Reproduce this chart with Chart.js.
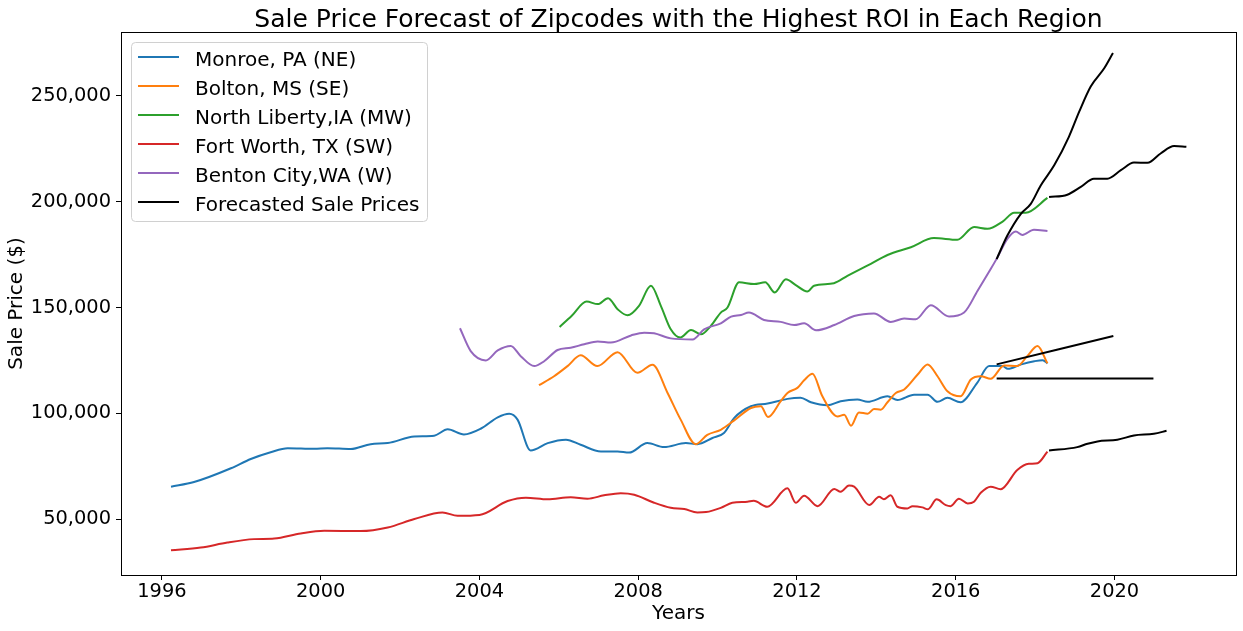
<!DOCTYPE html>
<html>
<head>
<meta charset="utf-8">
<script src="https://cdn.jsdelivr.net/npm/chart.js@4.4.0/dist/chart.umd.min.js"></script>
<style>
  html, body { margin: 0; padding: 0; background: #fff; }
</style>
</head>
<body>
<canvas id="forecastChart" width="1243" height="631"></canvas>
<script>
// values (years as decimals)
let monroeYears = [1996.23, 1996.81, 1997.74, 1998.24, 1998.74, 1999.17, 1999.84, 2000.17, 2000.76, 2001.26, 2001.69, 2002.36, 2002.86, 2003.20, 2003.61, 2004.04, 2004.46, 2004.75, 2004.96, 2005.29, 2005.72, 2006.18, 2006.55, 2007.06, 2007.48, 2007.77, 2008.23, 2008.65, 2009.20, 2009.49, 2009.87, 2010.16, 2010.42, 2010.84, 2011.26, 2011.76, 2012.09, 2012.35, 2012.77, 2013.10, 2013.52, 2013.78, 2014.28, 2014.53, 2014.95, 2015.29, 2015.54, 2015.79, 2016.12, 2016.54, 2016.84, 2017.18, 2017.31, 2017.65, 2017.98, 2018.19, 2018.31];
let monroeValues = [65300, 67500, 74000, 78400, 81600, 83500, 83200, 83500, 83100, 85400, 85900, 89000, 89400, 92400, 90000, 92800, 98100, 99800, 97000, 82400, 85900, 87500, 85100, 81900, 81900, 81400, 85900, 84000, 85900, 85400, 88300, 90700, 97800, 103300, 104600, 106800, 107300, 105200, 103800, 105700, 106500, 105400, 108000, 106300, 108800, 108800, 105400, 107300, 105200, 114400, 122300, 122300, 121000, 123100, 124600, 125100, 123600];

let boltonYears = [2005.50, 2005.88, 2006.22, 2006.55, 2006.97, 2007.48, 2007.98, 2008.36, 2008.74, 2009.07, 2009.45, 2009.74, 2010.08, 2010.41, 2010.84, 2011.09, 2011.27, 2011.59, 2011.76, 2012.01, 2012.18, 2012.39, 2012.64, 2013.02, 2013.19, 2013.36, 2013.56, 2013.78, 2013.94, 2014.11, 2014.28, 2014.49, 2014.70, 2015.04, 2015.29, 2015.54, 2015.79, 2016.12, 2016.38, 2016.63, 2016.88, 2017.22, 2017.55, 2017.80, 2018.06, 2018.31];
let boltonValues = [113300, 117500, 122300, 127400, 122300, 128900, 119100, 122900, 109600, 97000, 85400, 89800, 92200, 96500, 102500, 103300, 98200, 105700, 109600, 112000, 115600, 118700, 108000, 98500, 99300, 94100, 100400, 99800, 102000, 101700, 105200, 109600, 111200, 118300, 123100, 117500, 110400, 108000, 116000, 117500, 116300, 122600, 122300, 127000, 131800, 123600];

let libertyYears = [2006.02, 2006.32, 2006.70, 2006.98, 2007.24, 2007.48, 2007.73, 2008.02, 2008.32, 2008.57, 2008.82, 2009.06, 2009.33, 2009.58, 2009.83, 2010.08, 2010.25, 2010.54, 2010.92, 2011.20, 2011.44, 2011.72, 2011.97, 2012.26, 2012.43, 2012.93, 2013.27, 2013.86, 2014.28, 2014.87, 2015.45, 2016.04, 2016.46, 2016.80, 2017.18, 2017.47, 2017.76, 2018.31];
let libertyValues = [140800, 146000, 152800, 151600, 154400, 149200, 146300, 150800, 160300, 150800, 139700, 135800, 139400, 137300, 141300, 147600, 150000, 161900, 161100, 161900, 157100, 163400, 160600, 157600, 160300, 161500, 165000, 170600, 174800, 178500, 182800, 182000, 188000, 187200, 190600, 194800, 194800, 201800];

let fortWorthYears = [1996.23, 1996.98, 1997.65, 1998.32, 1998.83, 1999.50, 2000.09, 2001.01, 2001.69, 2002.36, 2003.07, 2003.45, 2004.00, 2004.71, 2005.17, 2005.72, 2006.30, 2006.72, 2007.14, 2007.56, 2007.90, 2008.40, 2008.82, 2009.16, 2009.49, 2009.71, 2010.08, 2010.37, 2010.75, 2010.91, 2011.25, 2011.76, 2011.97, 2012.18, 2012.52, 2012.94, 2013.10, 2013.31, 2013.44, 2013.82, 2014.07, 2014.19, 2014.36, 2014.53, 2014.78, 2014.91, 2015.16, 2015.30, 2015.52, 2015.75, 2015.87, 2016.08, 2016.30, 2016.46, 2016.63, 2016.88, 2017.13, 2017.55, 2017.84, 2018.06, 2018.31];
let fortWorthValues = [35200, 36500, 38900, 40500, 40800, 43200, 44400, 44300, 46000, 50000, 53100, 51500, 51900, 58500, 60100, 59300, 60300, 59600, 61200, 62200, 61500, 57700, 55300, 54700, 53100, 53300, 55300, 57700, 58200, 58600, 55800, 64500, 57700, 61000, 56100, 64200, 62900, 65800, 65300, 56600, 60500, 59300, 61200, 55800, 55000, 56100, 55500, 54600, 59300, 56600, 56100, 59600, 57400, 58200, 62400, 65300, 64100, 73200, 76100, 76400, 81900];

let bentonYears = [2003.51, 2003.78, 2004.16, 2004.46, 2004.79, 2005.04, 2005.38, 2005.63, 2005.97, 2006.30, 2006.64, 2006.98, 2007.31, 2007.82, 2008.15, 2008.40, 2008.82, 2009.37, 2009.66, 2010.08, 2010.34, 2010.59, 2010.79, 2011.17, 2011.59, 2011.93, 2012.18, 2012.48, 2012.94, 2013.44, 2013.94, 2014.36, 2014.70, 2014.99, 2015.37, 2015.83, 2016.21, 2016.55, 2016.88, 2017.05, 2017.30, 2017.51, 2017.68, 2017.97, 2018.31];
let bentonValues = [140200, 129400, 125000, 129700, 131800, 127000, 122300, 124600, 129900, 131000, 132600, 133900, 133400, 136800, 138100, 137800, 135400, 134900, 139700, 142500, 145700, 146500, 147600, 144100, 143200, 141700, 142500, 139200, 141700, 146000, 147200, 143200, 144800, 144400, 151100, 145700, 147600, 157900, 168200, 173700, 182400, 185900, 184300, 186800, 186200];

// forecasts (black lines)
let bentonForecastYears = [2017.03, 2017.30, 2017.64, 2017.89, 2018.14, 2018.48, 2018.85, 2019.11, 2019.40, 2019.74, 2019.96];
let bentonForecastValues = [172900, 184000, 194300, 199000, 207700, 217200, 230700, 242600, 254500, 263100, 270300];
let libertyForecastYears = [2018.35, 2018.81, 2019.15, 2019.48, 2019.82, 2020.16, 2020.49, 2020.83, 2021.16, 2021.50, 2021.81];
let libertyForecastValues = [202200, 203300, 207000, 210900, 210900, 214900, 218500, 218400, 222800, 226300, 226000];
let monroeForecastYears = [2017.03, 2019.97];
let monroeForecastValues = [123100, 136500];
let boltonForecastYears = [2017.03, 2020.98];
let boltonForecastValues = [116400, 116400];
let fortWorthForecastYears = [2018.35, 2019.06, 2019.32, 2019.57, 2020.07, 2020.49, 2020.99, 2021.31];
let fortWorthForecastValues = [82400, 84000, 85600, 86700, 87500, 89500, 90300, 91700];

let xTicks = [1996, 2000, 2004, 2008, 2012, 2016, 2020];
let yTicks = [50000, 100000, 150000, 200000, 250000];

const FONT = '"DejaVu Sans", "Liberation Sans", sans-serif';
const forecastLabel = 'Forecasted Sale Prices';

function series(label, color, years, values) {
    return {
        label: label,
        data: years.map((y, i) => ({x: y, y: values[i]})),
        borderColor: color,
        backgroundColor: color,
        borderWidth: 2,
        pointRadius: 0,
        cubicInterpolationMode: 'monotone',
        fill: false
    };
}

let datasets = [
    series('Monroe, PA (NE)', '#1f77b4', monroeYears, monroeValues),
    series('Bolton, MS (SE)', '#ff7f0e', boltonYears, boltonValues),
    series('North Liberty,IA (MW)', '#2ca02c', libertyYears, libertyValues),
    series('Fort Worth, TX (SW)', '#d62728', fortWorthYears, fortWorthValues),
    series('Benton City,WA (W)', '#9467bd', bentonYears, bentonValues),
    series(forecastLabel, '#000000', bentonForecastYears, bentonForecastValues),
    series(forecastLabel, '#000000', libertyForecastYears, libertyForecastValues),
    series(forecastLabel, '#000000', monroeForecastYears, monroeForecastValues),
    series(forecastLabel, '#000000', boltonForecastYears, boltonForecastValues),
    series(forecastLabel, '#000000', fortWorthForecastYears, fortWorthForecastValues)
];
// later lines on top, like matplotlib
datasets.forEach((ds, i) => ds.order = datasets.length - i);

// title, frame and legend box drawn inside the axes
const decorations = {
    id: 'decorations',
    afterDraw(chart) {
        const ctx = chart.ctx;
        const area = chart.chartArea;
        ctx.save();

        ctx.strokeStyle = '#000';
        ctx.lineWidth = 1;
        ctx.strokeRect(Math.round(area.left) + 0.5, Math.round(area.top) + 0.5,
            Math.round(area.right - area.left), Math.round(area.bottom - area.top));

        ctx.fillStyle = '#000';
        ctx.font = '25px ' + FONT;
        ctx.textAlign = 'center';
        ctx.textBaseline = 'alphabetic';
        ctx.fillText('Sale Price Forecast of Zipcodes with the Highest ROI in Each Region',
            (area.left + area.right) / 2, 27);

        let items = [];
        chart.data.datasets.forEach(ds => {
            if (!items.find(it => it.label === ds.label)) {
                items.push({label: ds.label, color: ds.borderColor});
            }
        });
        let bx = area.left + 10, by = area.top + 10;
        ctx.beginPath();
        ctx.roundRect(bx + 0.5, by + 0.5, 296, 179, 4);
        ctx.fillStyle = 'rgba(255,255,255,0.8)';
        ctx.fill();
        ctx.strokeStyle = '#d0d0d0';
        ctx.stroke();

        ctx.font = '20px ' + FONT;
        ctx.textAlign = 'left';
        ctx.textBaseline = 'alphabetic';
        items.forEach((it, i) => {
            let rowY = by + 15 + i * 29;
            ctx.strokeStyle = it.color;
            ctx.lineWidth = 2;
            ctx.beginPath();
            ctx.moveTo(bx + 7, rowY);
            ctx.lineTo(bx + 48, rowY);
            ctx.stroke();
            ctx.fillStyle = '#000';
            ctx.fillText(it.label, bx + 64, rowY + 9.3);
        });
        ctx.restore();
    }
};

let forecastChartElement = document.getElementById('forecastChart');
const forecastChart = new Chart(forecastChartElement, {
    type: 'line',
    data: { datasets: datasets },
    plugins: [decorations],
    options: {
        responsive: false,
        animation: false,
        devicePixelRatio: 1,
        layout: { padding: { top: 32, right: 7, bottom: 0, left: 0 } },
        plugins: {
            legend: { display: false },
            tooltip: { enabled: false },
            title: { display: false }
        },
        scales: {
            x: {
                type: 'linear',
                min: 1994.97,
                max: 2023.06,
                afterBuildTicks: (scale) => { scale.ticks = xTicks.map(v => ({value: v})); },
                afterFit: (scale) => { scale.height = 56; },
                border: { display: false },
                grid: { display: true, drawOnChartArea: false, drawTicks: true, tickLength: 5, color: '#000' },
                ticks: {
                    padding: 0,
                    color: '#000',
                    font: { family: FONT, size: 19.4 },
                    maxRotation: 0,
                    callback: (value) => String(value)
                },
                title: {
                    display: true,
                    text: 'Years',
                    color: '#000',
                    font: { family: FONT, size: 20 },
                    padding: { top: 0, bottom: 5 }
                }
            },
            y: {
                type: 'linear',
                min: 23540,
                max: 280240,
                afterBuildTicks: (scale) => { scale.ticks = yTicks.map(v => ({value: v})); },
                afterFit: (scale) => { scale.width = 121; },
                border: { display: false },
                grid: { display: true, drawOnChartArea: false, drawTicks: true, tickLength: 5, color: '#000' },
                ticks: {
                    padding: 5,
                    color: '#000',
                    font: { family: FONT, size: 19.4 },
                    callback: (value) => value.toLocaleString('en-US')
                },
                title: {
                    display: true,
                    text: 'Sale Price ($)',
                    color: '#000',
                    font: { family: FONT, size: 20 },
                    padding: { top: 5, bottom: 0 }
                }
            }
        }
    }
});
</script>
</body>
</html>
